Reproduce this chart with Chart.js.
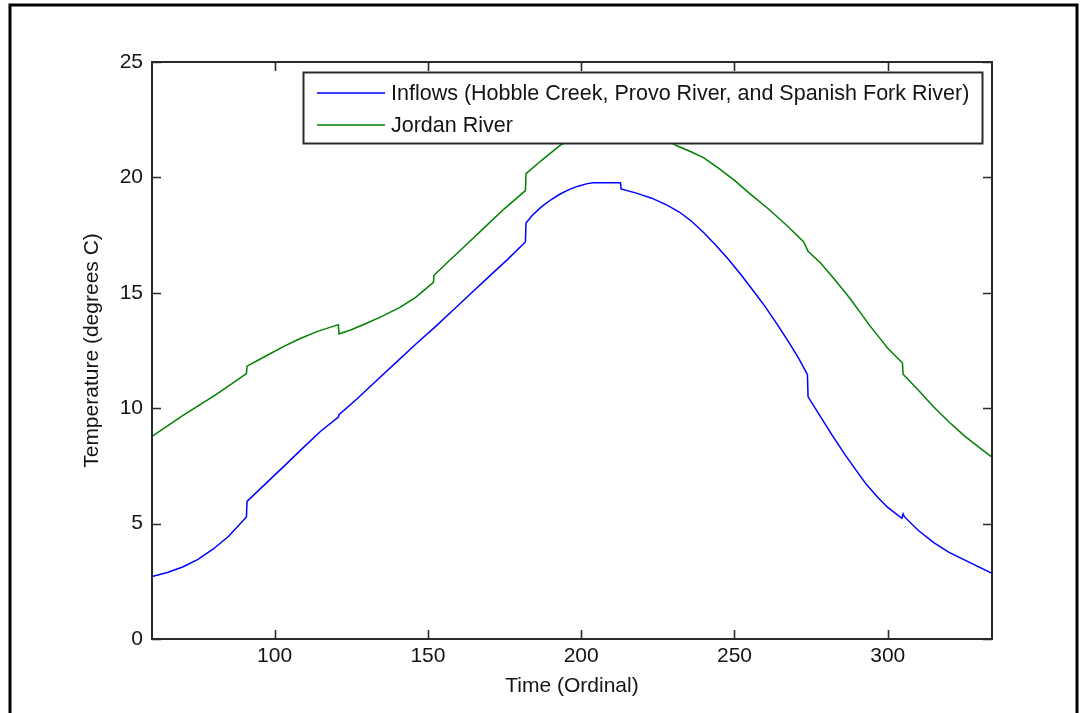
<!DOCTYPE html>
<html><head><meta charset="utf-8">
<script src="https://cdn.jsdelivr.net/npm/chart.js@4/dist/chart.umd.min.js"></script>
<style>html,body{margin:0;padding:0;background:#fff;overflow:hidden}</style>
</head><body>
<canvas id="c" width="1081" height="713"></canvas>
<script>
// ---- data ----
const inflowDays  = [60, 65, 70, 75, 80, 85, 90.8, 91, 97, 103, 109, 115, 120.8, 121, 127, 133, 140, 146, 152, 158, 164, 170, 176, 181.8, 182, 184, 187, 190, 193, 196, 199, 202, 204, 212.8, 213, 218, 223, 228, 232, 236, 240, 244, 248, 252, 256, 260, 264, 268, 271, 273.8, 274, 278, 282, 286, 290, 293, 297, 300, 304.6, 305, 305.4, 310, 315, 320, 326, 334];
const inflowTemps = [2.71, 2.88, 3.12, 3.45, 3.9, 4.45, 5.29, 5.96, 6.72, 7.48, 8.25, 9.0, 9.62, 9.72, 10.42, 11.17, 12.03, 12.77, 13.48, 14.22, 14.97, 15.71, 16.45, 17.2, 18.02, 18.35, 18.72, 19.02, 19.27, 19.47, 19.62, 19.73, 19.77, 19.77, 19.5, 19.32, 19.1, 18.8, 18.5, 18.1, 17.6, 17.05, 16.45, 15.8, 15.11, 14.4, 13.62, 12.8, 12.15, 11.45, 10.49, 9.65, 8.8, 8.0, 7.25, 6.7, 6.1, 5.7, 5.23, 5.42, 5.3, 4.7, 4.18, 3.75, 3.36, 2.85];

const jordanDays  = [60, 70, 81, 90.8, 91, 97, 103, 108, 114, 120.8, 121, 125, 130, 135, 141, 146, 151.8, 152, 157, 162, 169, 175, 181.8, 182, 187, 193, 198, 204, 210, 216, 222, 227, 231, 236, 240, 245, 250, 255, 261, 267, 272.6, 274, 278, 282, 285, 288, 291, 294, 297, 300, 304.8, 305, 310, 315, 320, 325, 330, 334];
const jordanTemps = [8.78, 9.68, 10.6, 11.5, 11.82, 12.25, 12.68, 13.0, 13.33, 13.62, 13.22, 13.4, 13.68, 13.98, 14.38, 14.8, 15.45, 15.76, 16.4, 17.02, 17.9, 18.65, 19.43, 20.16, 20.73, 21.38, 21.8, 22.1, 22.25, 22.2, 21.98, 21.7, 21.38, 21.1, 20.85, 20.38, 19.87, 19.3, 18.64, 17.93, 17.2, 16.8, 16.3, 15.68, 15.2, 14.7, 14.15, 13.6, 13.1, 12.6, 11.96, 11.47, 10.78, 10.05, 9.4, 8.8, 8.28, 7.88];

const xTickValues = [100, 150, 200, 250, 300];
const yTickValues = [0, 5, 10, 15, 20, 25];
const seriesNames = ['Inflows (Hobble Creek, Provo River, and Spanish Fork River)', 'Jordan River'];
const seriesColors = ['#0000ff', '#008000'];
const xTitle = 'Time (Ordinal)';
const yTitle = 'Temperature (degrees C)';

const FONT = "'Liberation Sans', Arial, sans-serif";
const FS = 21;
const TXT = '#141414';
const AX = '#2a2a2a';

function pts(xs, ys){ return xs.map((x,i)=>({x:x, y:ys[i]})); }

const framePlugin = {
  id: 'frame',
  beforeDraw(chart){
    const ctx = chart.ctx;
    ctx.save();
    ctx.fillStyle = '#fff';
    ctx.fillRect(0,0,chart.width,chart.height);
    ctx.strokeStyle = '#000';
    ctx.lineWidth = 3;
    ctx.beginPath();
    ctx.moveTo(10, 713);
    ctx.lineTo(10, 5);
    ctx.lineTo(1077, 5);
    ctx.lineTo(1077, 713);
    ctx.stroke();
    ctx.restore();
  },
  afterDatasetsDraw(chart){
    const ctx = chart.ctx, a = chart.chartArea;
    const xs = chart.scales.x, ys = chart.scales.y;
    const TL = 9;
    ctx.save();
    ctx.strokeStyle = AX;
    ctx.lineWidth = 2;
    ctx.beginPath();
    ctx.rect(a.left, a.top, a.right - a.left, a.bottom - a.top);
    ctx.stroke();
    ctx.lineWidth = 1.6;
    ctx.beginPath();
    xs.ticks.forEach(t => {
      const px = Math.round(xs.getPixelForValue(t.value)) + 0.5;
      ctx.moveTo(px, a.bottom); ctx.lineTo(px, a.bottom - TL);
      ctx.moveTo(px, a.top); ctx.lineTo(px, a.top + TL);
    });
    ys.ticks.forEach(t => {
      const py = Math.round(ys.getPixelForValue(t.value)) + 0.5;
      ctx.moveTo(a.left, py); ctx.lineTo(a.left + TL, py);
      ctx.moveTo(a.right, py); ctx.lineTo(a.right - TL, py);
    });
    ctx.stroke();

    // legend box inside the axes
    const bx = 303.5, by = 72.5, bw = 679, bh = 71;
    ctx.fillStyle = '#fff';
    ctx.fillRect(bx, by, bw, bh);
    ctx.strokeStyle = AX;
    ctx.lineWidth = 2;
    ctx.strokeRect(bx, by, bw, bh);
    const rows = [93, 125];
    ctx.font = '21.5px ' + FONT;
    ctx.textBaseline = 'middle';
    ctx.textAlign = 'left';
    chart.data.datasets.forEach((ds, i) => {
      ctx.strokeStyle = ds.borderColor;
      ctx.lineWidth = 1.5;
      ctx.beginPath();
      ctx.moveTo(317, rows[i]); ctx.lineTo(385, rows[i]);
      ctx.stroke();
      ctx.fillStyle = TXT;
      ctx.fillText(ds.label, 391, rows[i] + 1);
    });
    ctx.restore();
  }
};

new Chart(document.getElementById('c'), {
  type: 'line',
  data: {
    datasets: [
      { label: seriesNames[0], data: pts(inflowDays, inflowTemps), borderColor: seriesColors[0], backgroundColor: seriesColors[0], borderWidth: 1.5, pointRadius: 0, tension: 0, fill: false },
      { label: seriesNames[1], data: pts(jordanDays, jordanTemps), borderColor: seriesColors[1], backgroundColor: seriesColors[1], borderWidth: 1.5, pointRadius: 0, tension: 0, fill: false }
    ]
  },
  options: {
    responsive: false,
    animation: false,
    events: [],
    layout: { padding: { top: 62, right: 89, left: 0, bottom: 0 } },
    plugins: { legend: { display: false }, tooltip: { enabled: false }, title: { display: false } },
    scales: {
      x: {
        type: 'linear', min: 60, max: 334,
        afterBuildTicks: s => { s.ticks = xTickValues.map(v => ({ value: v })); },
        afterFit: s => { s.height = 74; },
        grid: { display: false, drawTicks: false },
        border: { display: false },
        ticks: { color: TXT, font: { family: FONT, size: FS }, padding: 5, maxRotation: 0, autoSkip: false },
        title: { display: true, text: xTitle, color: TXT, font: { family: FONT, size: FS }, padding: { top: 0, bottom: 14 } }
      },
      y: {
        type: 'linear', min: 0, max: 25,
        afterBuildTicks: s => { s.ticks = yTickValues.map(v => ({ value: v })); },
        afterFit: s => { s.width = 152; },
        grid: { display: false, drawTicks: false },
        border: { display: false },
        ticks: { color: TXT, font: { family: FONT, size: FS }, padding: 9, autoSkip: false },
        title: { display: true, text: yTitle, color: TXT, font: { family: FONT, size: FS }, padding: { top: 80, bottom: 0 } }
      }
    }
  },
  plugins: [framePlugin]
});
</script>
</body></html>
